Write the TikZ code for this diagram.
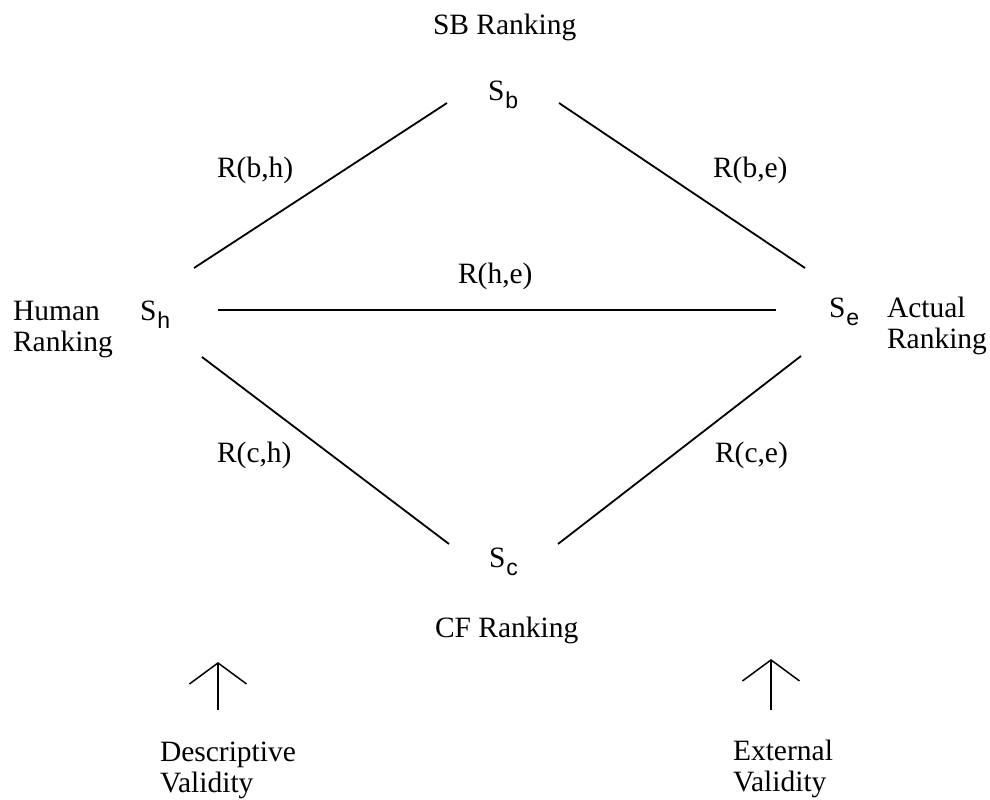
\documentclass[tikz,border=0pt]{standalone}
\usepackage{fontspec}
\setmainfont{Liberation Serif}
\newfontfamily\subsans{Liberation Sans}
\usetikzlibrary{arrows.meta}
\newcommand{\Ssub}[1]{S\kern1pt\raisebox{-8pt}{\subsans\fontsize{23}{23}\selectfont #1}}
\begin{document}
\begin{tikzpicture}[x=1pt,y=-1pt,
  every node/.style={font=\fontsize{29.5}{31}\selectfont, inner sep=0pt, outer sep=0pt},
  lbl/.style={anchor=base west},
  multi/.style={anchor=base west, align=left},
  link/.style={line width=1.8pt},
  uparrow/.style={line width=1.5pt, -{Straight Barb[length=21pt,width=57pt,line width=1.5pt]}}]
\useasboundingbox (0,0) rectangle (990,800);

% state nodes
\node[lbl] (sb) at (488,100) {\Ssub{b}};
\node[lbl] (sh) at (140,320) {\Ssub{h}};
\node[lbl] (se) at (829,317) {\Ssub{e}};
\node[lbl] (sc) at (489,567) {\Ssub{c}};

% ranking labels
\node[lbl] (sbr) at (433,35) {SB Ranking};
\node[lbl] (cfr) at (435,637) {CF Ranking};
\node[multi] (hum) at (13,351) {Human\\Ranking};
\node[multi] (act) at (887,348) {Actual\\Ranking};

% relation labels
\node[lbl] (rbh) at (217,177) {R(b,h)};
\node[lbl] (rbe) at (713,177) {R(b,e)};
\node[lbl] (rhe) at (458,283) {R(h,e)};
\node[lbl] (rch) at (217,462) {R(c,h)};
\node[lbl] (rce) at (715,462) {R(c,e)};

% validity labels
\node[multi] (desc) at (160,792) {Descriptive\\Validity};
\node[multi] (ext) at (733,791) {External\\Validity};

% connector end points
\coordinate (sbL) at (447,103);
\coordinate (sbR) at (559,103);
\coordinate (shU) at (194,268);
\coordinate (shR) at (218,310);
\coordinate (shD) at (202,357);
\coordinate (seU) at (805,268);
\coordinate (seL) at (776,310);
\coordinate (seD) at (801,356);
\coordinate (scL) at (449,544);
\coordinate (scR) at (558,544);

\draw[link] (shU) -- (sbL);
\draw[link] (sbR) -- (seU);
\draw[link] (shR) -- (seL);
\draw[link] (shD) -- (scL);
\draw[link] (scR) -- (seD);

% arrows
\coordinate (dA) at (218,710);
\coordinate (dT) at (218,662);
\coordinate (eA) at (771,710);
\coordinate (eT) at (771,659);
\draw[uparrow] (dA) -- (dT);
\draw[uparrow] (eA) -- (eT);
\end{tikzpicture}
\end{document}
